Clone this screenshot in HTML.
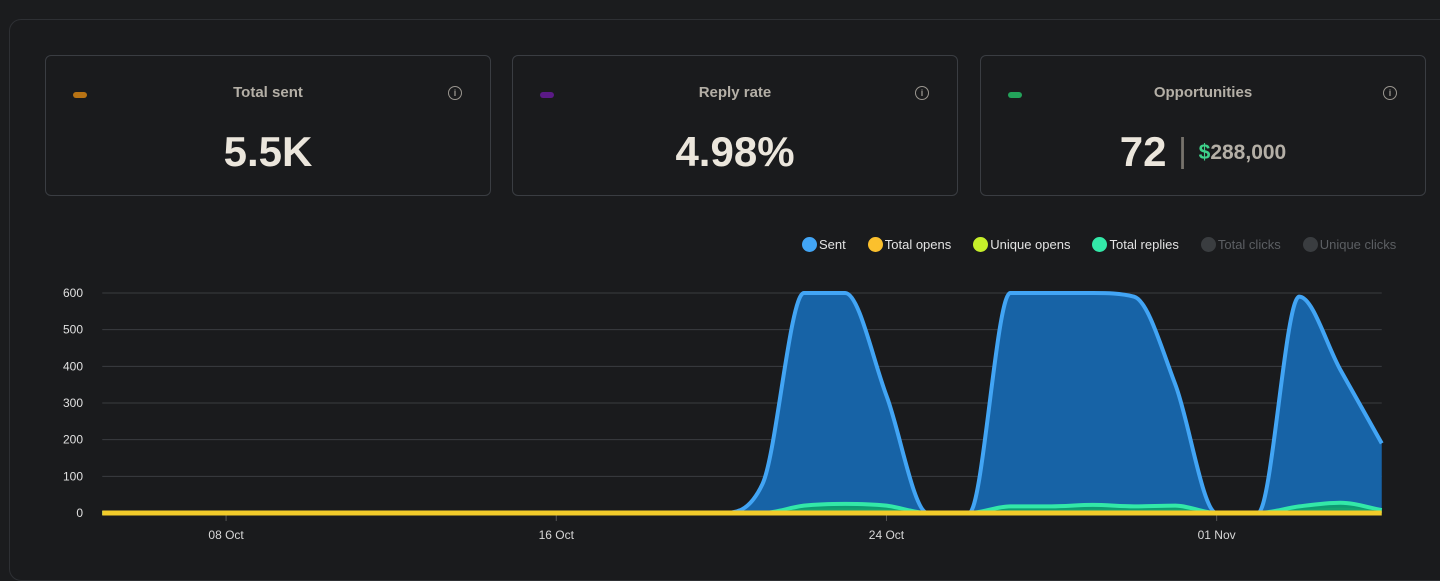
<!DOCTYPE html>
<html><head><meta charset="utf-8"><style>
body{margin:0;width:1440px;height:554px;background:#1b1c1e;font-family:"Liberation Sans",sans-serif;overflow:hidden;position:relative}
.panel{position:absolute;left:9px;top:19px;width:1460px;height:560px;border:1px solid #2e3034;border-radius:12px;background:#1a1b1d}
.card{position:absolute;top:55px;width:444px;height:139px;border:1px solid #3a3d42;border-radius:6px;background:#1a1b1d}
.pill{position:absolute;left:27px;top:36px;width:14px;height:6px;border-radius:3px}
.title{position:absolute;top:28px;width:100%;text-align:center;color:#b4afa6;font-size:15px;font-weight:bold}
.info{position:absolute;right:28px;top:30px;width:12px;height:12px;border:1.3px solid #9a968f;border-radius:50%;color:#9a968f;font-size:9px;text-align:center;line-height:12px;font-weight:bold}
.val{position:absolute;top:72px;width:100%;text-align:center;color:#ebe6dc;font-size:42px;font-weight:bold}
.legend{position:absolute;top:237px;left:802px;font-size:13px;color:#e3e3e3;display:flex}
.li{display:flex;align-items:center;margin-right:22px}
.dot{width:15px;height:15px;border-radius:50%;margin-right:2px}
</style></head><body>
<div class="panel"></div>
<div class="card" style="left:45px">
 <div class="pill" style="background:#b87314"></div><div class="title">Total sent</div><div class="info">i</div><div class="val">5.5K</div></div>
<div class="card" style="left:512px">
 <div class="pill" style="background:#5b1a86"></div><div class="title">Reply rate</div><div class="info">i</div><div class="val">4.98%</div></div>
<div class="card" style="left:980px">
 <div class="pill" style="background:#23a35a"></div><div class="title">Opportunities</div><div class="info">i</div>
 <div class="val">72 <span style="color:#77736c;font-weight:normal;font-size:34px;position:relative;top:-4px">|</span> <span style="font-size:21px;color:#b4afa6;position:relative;top:-7px"><span style="color:#3ed18a">$</span>288,000</span></div></div>
<div class="legend">
 <div class="li"><div class="dot" style="background:#42a5f5"></div>Sent</div>
 <div class="li"><div class="dot" style="background:#fbc02d"></div>Total opens</div>
 <div class="li"><div class="dot" style="background:#c6ef2a"></div>Unique opens</div>
 <div class="li"><div class="dot" style="background:#33e8a8"></div>Total replies</div>
 <div class="li" style="color:#5c5f63"><div class="dot" style="background:#3a3d40"></div>Total clicks</div>
 <div class="li" style="color:#5c5f63"><div class="dot" style="background:#3a3d40"></div>Unique clicks</div>
</div>
<svg id="chart" width="1440" height="554" style="position:absolute;left:0;top:0"></svg>
<script>
const dates=["05 Oct","06 Oct","07 Oct","08 Oct","09 Oct","10 Oct","11 Oct","12 Oct","13 Oct","14 Oct","15 Oct","16 Oct","17 Oct","18 Oct","19 Oct","20 Oct","21 Oct","22 Oct","23 Oct","24 Oct","25 Oct","26 Oct","27 Oct","28 Oct","29 Oct","30 Oct","31 Oct","01 Nov","02 Nov","03 Nov","04 Nov","05 Nov"];
const sent=[0,0,0,0,0,0,0,0,0,0,0,0,0,0,0,0,80,600,600,320,0,0,600,600,600,590,350,0,0,590,390,190];
const replies=[0,0,0,0,0,0,0,0,0,0,0,0,0,0,0,0,0,20,25,20,0,0,18,18,22,18,20,0,0,18,28,8];
const uniqueOpens=[0,0,0,0,0,0,0,0,0,0,0,0,0,0,0,0,0,8,10,8,0,0,6,6,8,6,8,0,0,6,12,3];
const totalOpens=new Array(32).fill(0);
const yTicks=[0,100,200,300,400,500,600];
const xTickLabels=["08 Oct","16 Oct","24 Oct","01 Nov"];
const NS="http://www.w3.org/2000/svg";const svg=document.getElementById('chart');
const x0=102.25,x1=1381.75,yb=513,yt=293,ymax=600;
const X=i=>x0+(x1-x0)*i/(dates.length-1);
const Y=v=>yb-(yb-yt)*v/ymax;
function mk(t,a){const e=document.createElementNS(NS,t);for(const k in a)e.setAttribute(k,a[k]);svg.appendChild(e);return e;}
yTicks.forEach(v=>{
 const l=mk('line',{x1:x0,x2:x1,y1:Y(v),y2:Y(v),stroke:'#3a3c40','stroke-width':1});
 
 
 const t=mk('text',{x:83,y:Y(v)+4,'text-anchor':'end',fill:'#e0e0e0','font-size':12,'font-family':'Liberation Sans, sans-serif'});t.textContent=v;
 
 
});
xTickLabels.forEach(s=>{const i=dates.indexOf(s);
 mk('line',{x1:X(i),x2:X(i),y1:yb+2,y2:yb+8,stroke:'#555'});
 const t=mk('text',{x:X(i),y:539,'text-anchor':'middle',fill:'#d8d8d8','font-size':12,'font-family':'Liberation Sans, sans-serif'});t.textContent=s;
 
 
});
function path(vals){const n=vals.length,xs=vals.map((_,i)=>X(i)),ys=vals.map(Y);
 const d=[],m=[];for(let i=0;i<n-1;i++)d.push((ys[i+1]-ys[i])/(xs[i+1]-xs[i]));
 for(let i=0;i<n;i++){if(i==0)m.push(d[0]);else if(i==n-1)m.push(d[n-2]);else m.push(d[i-1]*d[i]<=0?0:(d[i-1]+d[i])/2);}
 for(let i=0;i<n-1;i++){if(d[i]==0){m[i]=0;m[i+1]=0;}else{const a=m[i]/d[i],b=m[i+1]/d[i],s=a*a+b*b;if(s>9){const t=3/Math.sqrt(s);m[i]=t*a*d[i];m[i+1]=t*b*d[i];}}}
 let p=`M${xs[0]},${ys[0]}`;for(let i=0;i<n-1;i++){const h=(xs[i+1]-xs[i])/3;p+=` C${xs[i]+h},${ys[i]+m[i]*h} ${xs[i+1]-h},${ys[i+1]-m[i+1]*h} ${xs[i+1]},${ys[i+1]}`;}return p;}
function series(vals,fill,stroke,w,name){const p=path(vals);
 const a=mk('path',{d:p+` L${x1},${yb} L${x0},${yb} Z`,fill:fill});
 
 
 const l=mk('path',{d:p,fill:'none',stroke:stroke,'stroke-width':w,'stroke-linejoin':'round'});
 
 }
series(sent,'#1763a6','#42a5f5',4,'sent');
series(replies,'#0f9b72','#33e8a8',4,'total-replies');
series(uniqueOpens,'#14a070','#17a36f',2,'unique-opens');
series(totalOpens,'none','#f1cb2a',5,'total-opens');
</script>
</body></html>
